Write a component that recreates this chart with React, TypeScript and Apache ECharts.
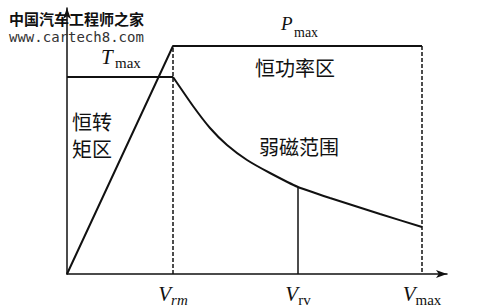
import React, { useEffect, useRef } from "react";
import * as echarts from "echarts";

// Speed axis (arbitrary units)
const vRm = 106;
const vRv = 231;
const vMax = 355;
const vAxisMax = 380;
const yAxisMax = 266;

// Power curve: rises to P_max at V_rm, then stays flat
const tPmax = 228;
const powerData: number[][] = [
  [0, 0],
  [vRm, tPmax],
  [vMax, tPmax],
];

// Torque: flat T_max to V_rm
const tTmax = 197;
const torqueFlat: number[][] = [
  [0, tTmax],
  [vRm, tTmax],
];
// Torque in field-weakening range
const torqueCurveV = [106, 126, 143, 160, 180, 203, 231, 263, 313, 355];
const torqueCurveT = [197, 168, 146, 129, 114, 101, 87, 76, 60, 47];
const torqueCurve = torqueCurveV.map((v, i) => [v, torqueCurveT[i]]);

const tickValues = [vRm, vRv, vMax];
const tickLabels = ["{v|V}{s|rm}", "{v|V}{u|rv}", "{v|V}{u|max}"];

const serif = "'Liberation Serif', 'DejaVu Serif', serif";
const cjk = "'Noto Sans CJK SC', sans-serif";

export default function App() {
  const ref = useRef<HTMLDivElement>(null);
  useEffect(() => {
    if (!ref.current) return;
    const chart = echarts.init(ref.current, undefined, { renderer: "svg" });
    const black = "#111";
    chart.setOption({
      animation: false,
      backgroundColor: "#fff",
      grid: { left: 67, right: 53, top: 8, bottom: 33 },
      xAxis: {
        type: "value",
        min: 0,
        max: vAxisMax,
        splitLine: { show: false },
        axisTick: { show: false },
        axisLine: {
          lineStyle: { color: black, width: 1.5 },
          symbol: ["none", "arrow"],
          symbolSize: [6, 11],
        },
        axisLabel: {
          customValues: tickValues,
          formatter: (val: number) => tickLabels[tickValues.indexOf(val)] ?? "",
          margin: 8,
          rich: {
            v: { fontFamily: serif, fontStyle: "italic", fontSize: 21, color: black, verticalAlign: "bottom", lineHeight: 22 },
            s: { fontFamily: serif, fontStyle: "italic", fontSize: 15, color: black, verticalAlign: "bottom", lineHeight: 18, padding: [0, 0, -3, 0] },
            u: { fontFamily: serif, fontSize: 15, color: black, verticalAlign: "bottom", lineHeight: 18, padding: [0, 0, -3, 0] },
          },
        },
      },
      yAxis: {
        type: "value",
        min: 0,
        max: yAxisMax,
        splitLine: { show: false },
        axisTick: { show: false },
        axisLabel: { show: false },
        axisLine: {
          lineStyle: { color: black, width: 1.5 },
          symbol: ["none", "arrow"],
          symbolSize: [6, 11],
        },
      },
      series: [
        { type: "line", data: powerData, symbol: "none", lineStyle: { color: black, width: 2 } },
        { type: "line", data: torqueFlat, symbol: "none", lineStyle: { color: black, width: 2 } },
        { type: "line", data: torqueCurve, symbol: "none", smooth: 0.15, lineStyle: { color: black, width: 2 } },
        {
          type: "line",
          data: [
            [vRm, 0],
            [vRm, tPmax],
          ],
          symbol: "none",
          lineStyle: { color: black, width: 1.5, type: [4, 2] },
        },
        {
          type: "line",
          data: [
            [vMax, tPmax],
            [vMax, 0],
          ],
          symbol: "none",
          lineStyle: { color: black, width: 1.5, type: [4, 2] },
        },
        {
          type: "line",
          data: [
            [vRv, 0],
            [vRv, torqueCurveT[torqueCurveV.indexOf(vRv)]],
          ],
          symbol: "none",
          lineStyle: { color: black, width: 1.5 },
        },
      ],
      graphic: [
        { type: "text", left: 101, top: 46, z: 10, style: { text: "T", font: `italic 21px ${serif}`, fill: black } },
        { type: "text", left: 115, top: 55, z: 10, style: { text: "max", font: `15px ${serif}`, fill: black } },
        { type: "text", left: 281, top: 14, z: 10, style: { text: "P", font: `italic 19px ${serif}`, fill: black } },
        { type: "text", left: 294, top: 25, z: 10, style: { text: "max", font: `14px ${serif}`, fill: black } },
        { type: "text", left: 255, top: 57, z: 10, style: { text: "恒功率区", font: `20px ${cjk}`, fill: black } },
        { type: "text", left: 259, top: 136, z: 10, style: { text: "弱磁范围", font: `20px ${cjk}`, fill: black } },
        { type: "text", left: 72, top: 108, z: 10, style: { text: "恒转\n矩区", font: `20px ${cjk}`, lineHeight: 27, fill: black } },
        { type: "text", left: 9, top: 11, z: 20, style: { text: "中国汽车工程师之家", font: `bold 15px ${cjk}`, fill: "#111" } },
        { type: "text", left: 9, top: 30, z: 20, style: { text: "www.cartech8.com", font: `14px 'DejaVu Sans Mono', monospace`, fill: "#333" } },
      ],
    });
    return () => chart.dispose();
  }, []);
  return <div ref={ref} style={{ position: "fixed", left: 0, top: 0, width: 500, height: 307 }} />;
}
